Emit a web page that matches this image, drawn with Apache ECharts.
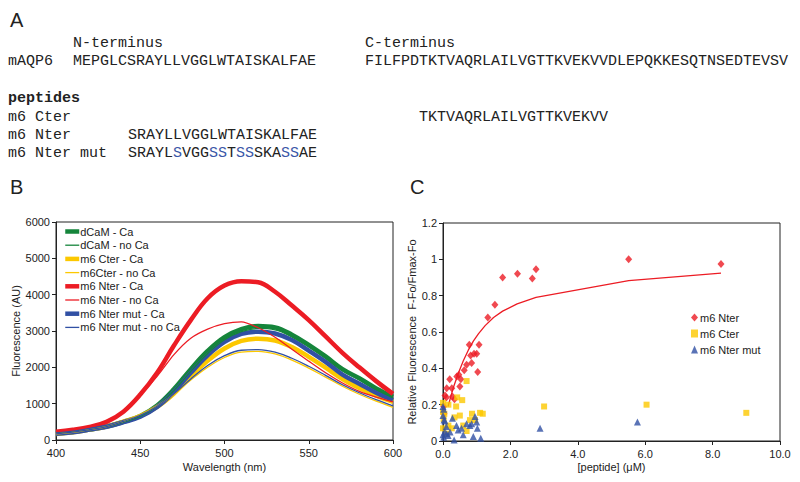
<!DOCTYPE html>
<html><head><meta charset="utf-8">
<script src="https://cdn.jsdelivr.net/npm/echarts@6/dist/echarts.min.js"></script>
<style>html,body{margin:0;padding:0;background:#fff}#c{width:800px;height:482px}</style>
</head><body><div id="c"></div>
<script>
// ---------- Panel B data (fluorescence emission spectra) ----------
const wavelengths = [400,410,420,430,440,450,460,470,480,490,500,510,520,530,540,550,560,570,580,590,600];
const dCaM_Ca      = [180,220,290,370,500,660,950,1400,1950,2450,2830,3050,3140,3100,2900,2620,2300,1950,1700,1420,1190];
const dCaM_noCa    = [175,215,285,365,495,650,930,1360,1890,2380,2760,2980,3070,3030,2840,2560,2250,1910,1660,1390,1160];
const cter_Ca      = [165,210,285,370,505,660,910,1280,1750,2180,2520,2730,2790,2740,2560,2290,1990,1680,1430,1220,1050];
const cter_noCa    = [165,210,285,370,515,690,940,1260,1650,2000,2270,2420,2440,2370,2200,1980,1730,1480,1260,1070,900];
const nter_Ca      = [230,280,360,500,780,1250,1850,2600,3300,3900,4250,4370,4340,4080,3700,3300,2850,2400,2000,1620,1270];
const nter_noCa    = [230,280,360,500,780,1230,1750,2350,2800,3050,3200,3250,3090,2830,2500,2170,1850,1570,1340,1180,1050];
const mut_Ca       = [170,215,285,365,490,640,910,1330,1850,2330,2700,2920,2980,2930,2750,2460,2150,1800,1550,1300,1100];
const mut_noCa     = [170,215,285,370,510,680,930,1270,1680,2050,2320,2470,2490,2420,2250,2030,1780,1520,1300,1110,940];
const seriesNamesB = ['dCaM - Ca','dCaM - no Ca','m6 Cter - Ca','m6Cter - no Ca','m6 Nter - Ca','m6 Nter - no Ca','m6 Nter mut - Ca','m6 Nter mut - no Ca'];

// ---------- Panel C data (titration) ----------
const nterPoints = [[0.02,0.19],[0.03,0.15],[0.06,0.25],[0.10,0.24],[0.11,0.29],[0.20,0.34],[0.26,0.29],[0.28,0.245],[0.34,0.23],[0.41,0.355],[0.47,0.365],[0.50,0.30],[0.53,0.34],[0.63,0.39],[0.70,0.42],[0.78,0.53],[0.82,0.47],[0.85,0.43],[0.92,0.48],[1.00,0.48],[1.03,0.38],[1.07,0.53],[1.33,0.68],[1.54,0.75],[1.77,0.90],[2.21,0.92],[2.65,0.895],[2.76,0.945],[5.51,1.0],[8.25,0.975]];
const cterPoints = [[0.0,0.21],[0.0,0.16],[0.04,0.15],[0.02,0.12],[0.0,0.07],[0.11,0.04],[0.16,0.20],[0.16,0.085],[0.26,0.07],[0.34,0.13],[0.39,0.19],[0.42,0.24],[0.50,0.14],[0.57,0.225],[0.60,0.085],[0.70,0.33],[0.70,0.055],[0.80,0.115],[0.86,0.15],[0.95,0.115],[1.10,0.155],[1.18,0.15],[3.0,0.19],[6.04,0.20],[9.0,0.155]];
const mutPoints  = [[0.0,0.19],[0.02,0.175],[0.0,0.14],[0.03,0.115],[0.06,0.11],[0.10,0.08],[0.05,0.05],[0.0,0.035],[0.02,0.02],[0.11,0.04],[0.15,0.03],[0.28,0.125],[0.21,0.05],[0.33,0.005],[0.40,0.085],[0.45,0.06],[0.55,0.07],[0.60,0.035],[0.70,0.095],[0.80,0.085],[0.85,0.095],[0.95,0.135],[1.00,0.105],[1.02,0.07],[0.90,0.025],[1.12,0.015],[2.88,0.07],[5.77,0.105]];
const fitX = [0.15,0.30,0.45,0.60,0.75,0.90,1.05,1.25,1.50,1.77,2.20,2.76,5.51,8.25];
const fitY = [0.19,0.29,0.37,0.44,0.50,0.55,0.59,0.635,0.68,0.715,0.755,0.79,0.883,0.924];
const seriesNamesC = ['m6 Nter','m6 Cter','m6 Nter mut'];

// ---------- Panel A text ----------
const nTermLabel = 'N-terminus';
const cTermLabel = 'C-terminus';
const protName = 'mAQP6';
const nTermSeq = 'MEPGLCSRAYLLVGGLWTAISKALFAE';
const cTermSeq = 'FILFPDTKTVAQRLAILVGTTKVEKVVDLEPQKKESQTNSEDTEVSV';
const pepHeader = 'peptides';
const pepNames = ['m6 Cter','m6 Nter','m6 Nter mut'];
const cterSeq = 'TKTVAQRLAILVGTTKVEKVV';
const nterSeq = 'SRAYLLVGGLWTAISKALFAE';
const mutRuns = [['SRAYL',0],['S',1],['VGG',0],['SS',1],['T',0],['SS',1],['SKA',0],['SS',1],['AE',0]];

const MONO = '15px "Liberation Mono", "Courier New", monospace';
const MONOB = 'bold 15px "Liberation Mono", "Courier New", monospace';
const SANS = '"Liberation Sans", Arial, sans-serif';
const TXT = '#222';
const C_GREEN = '#15853b', C_YEL = '#fcc800', C_RED = '#ec1c24', C_BLUE = '#3150a4';

function monoText(x, y, t, font) {
  return {type:'text', x:x, y:y, silent:true, style:{text:t, font:font||MONO, fill:TXT, verticalAlign:'middle'}};
}
const mutRich = mutRuns.map(r => '{' + (r[1] ? 'b' : 'k') + '|' + r[0] + '}').join('');

const graphic = [
  {type:'text', x:10, y:20, silent:true, style:{text:'A', font:'20px ' + SANS, fill:TXT, verticalAlign:'middle'}},
  {type:'text', x:10, y:187, silent:true, style:{text:'B', font:'20px ' + SANS, fill:TXT, verticalAlign:'middle'}},
  {type:'text', x:410, y:187, silent:true, style:{text:'C', font:'20px ' + SANS, fill:TXT, verticalAlign:'middle'}},
  monoText(73, 43, nTermLabel),
  monoText(365, 43, cTermLabel),
  monoText(8, 61, protName),
  monoText(73, 61, nTermSeq),
  monoText(365, 61, cTermSeq),
  monoText(8, 98, pepHeader, MONOB),
  monoText(8, 117, pepNames[0]),
  monoText(8, 135, pepNames[1]),
  monoText(8, 153, pepNames[2]),
  monoText(419, 117, cterSeq),
  monoText(128, 135, nterSeq),
  {type:'text', x:128, y:153, silent:true, style:{text:mutRich, font:MONO, fill:TXT, verticalAlign:'middle',
    rich:{k:{font:MONO, fill:TXT}, b:{font:MONO, fill:'#3a56a8'}}}}
];

const axisCommon = {
  axisLine:{show:true, onZero:false, lineStyle:{color:TXT, width:1}},
  axisTick:{show:true, length:4, lineStyle:{color:TXT}},
  splitLine:{show:false},
  nameTextStyle:{color:TXT, fontSize:11, fontFamily:SANS},
};

function lineSeries(name, data, color, width, z, smooth) {
  return {name:name, type:'line', xAxisIndex:0, yAxisIndex:0, data:wavelengths.map((w,i)=>[w,data[i]]),
    showSymbol:false, symbol:'none', smooth:smooth, lineStyle:{color:color, width:width}, itemStyle:{color:color}, z:z, silent:true};
}

const option = {
  animation:false,
  backgroundColor:'#fff',
  graphic: graphic,
  grid:[
    {left:56, right:407, top:222, bottom:42, show:true, borderColor:TXT, borderWidth:1, backgroundColor:'transparent'},
    {left:443, right:20, top:223, bottom:41, show:true, borderColor:TXT, borderWidth:1, backgroundColor:'transparent'}
  ],
  xAxis:[
    Object.assign({}, axisCommon, {type:'value', gridIndex:0, min:400, max:600, interval:50,
      name:'Wavelength (nm)', nameLocation:'middle', nameGap:21,
      axisLabel:{color:TXT, fontSize:11, fontFamily:SANS, margin:7, formatter:v => String(v)}}),
    Object.assign({}, axisCommon, {type:'value', gridIndex:1, min:0, max:10, interval:2,
      name:'[peptide] (\u03BCM)', nameLocation:'middle', nameGap:20,
      axisLabel:{color:TXT, fontSize:11, fontFamily:SANS, margin:7, formatter:v => v.toFixed(1)}})
  ],
  yAxis:[
    Object.assign({}, axisCommon, {type:'value', gridIndex:0, min:0, max:6000, interval:1000,
      name:'Fluorescence (AU)', nameLocation:'middle', nameGap:33,
      axisLabel:{color:TXT, fontSize:11, fontFamily:SANS, margin:6, formatter:v => String(v)}}),
    Object.assign({}, axisCommon, {type:'value', gridIndex:1, min:0, max:1.2, interval:0.2,
      name:'Relative Fluorescence  F-Fo/Fmax-Fo', nameLocation:'middle', nameGap:25,
      axisLabel:{color:TXT, fontSize:11, fontFamily:SANS, margin:6, formatter:v => String(Math.round(v*10)/10)}})
  ],
  legend:[
    {data:seriesNamesB, orient:'vertical', left:63, top:226, padding:0, itemGap:2.7, itemWidth:14, itemHeight:10,
      itemStyle:{opacity:0, borderWidth:0}, lineStyle:{width:'inherit'},
      textStyle:{color:TXT, fontSize:11, fontFamily:SANS, padding:[0,0,0,-4]}, selectedMode:false},
    {data:seriesNamesC, orient:'vertical', left:691, top:312, padding:0, itemGap:5, itemWidth:7, itemHeight:8,
      textStyle:{color:TXT, fontSize:11, fontFamily:SANS, padding:[0,0,0,-3]}, selectedMode:false}
  ],
  series:[
    lineSeries(seriesNamesB[0], dCaM_Ca, C_GREEN, 4.5, 2, 0.4),
    lineSeries(seriesNamesB[1], dCaM_noCa, C_GREEN, 1.3, 3, 0.4),
    lineSeries(seriesNamesB[2], cter_Ca, C_YEL, 4.5, 2, 0.4),
    lineSeries(seriesNamesB[3], cter_noCa, C_YEL, 1.3, 3, 0.4),
    lineSeries(seriesNamesB[4], nter_Ca, C_RED, 4.5, 2, 0.4),
    lineSeries(seriesNamesB[5], nter_noCa, C_RED, 1.3, 3, 0.25),
    lineSeries(seriesNamesB[6], mut_Ca, C_BLUE, 4.5, 2, 0.4),
    lineSeries(seriesNamesB[7], mut_noCa, C_BLUE, 1.3, 3, 0.4),
    {name:'fit', type:'line', xAxisIndex:1, yAxisIndex:1, data:fitX.map((x,i)=>[x,fitY[i]]), showSymbol:false, symbol:'none',
      lineStyle:{color:C_RED, width:1.3}, z:2, silent:true},
    {name:seriesNamesC[0], type:'scatter', xAxisIndex:1, yAxisIndex:1, data:nterPoints, symbol:'diamond', symbolSize:[7,8],
      itemStyle:{color:C_RED}, z:3, silent:true},
    {name:seriesNamesC[1], type:'scatter', xAxisIndex:1, yAxisIndex:1, data:cterPoints, symbol:'rect', symbolSize:6,
      itemStyle:{color:C_YEL}, z:3, silent:true},
    {name:seriesNamesC[2], type:'scatter', xAxisIndex:1, yAxisIndex:1, data:mutPoints, symbol:'triangle', symbolSize:7,
      itemStyle:{color:C_BLUE}, z:4, silent:true}
  ]
};
const chart = echarts.init(document.getElementById('c'), null, {renderer:'svg'});
chart.setOption(option);
</script>
</body></html>
